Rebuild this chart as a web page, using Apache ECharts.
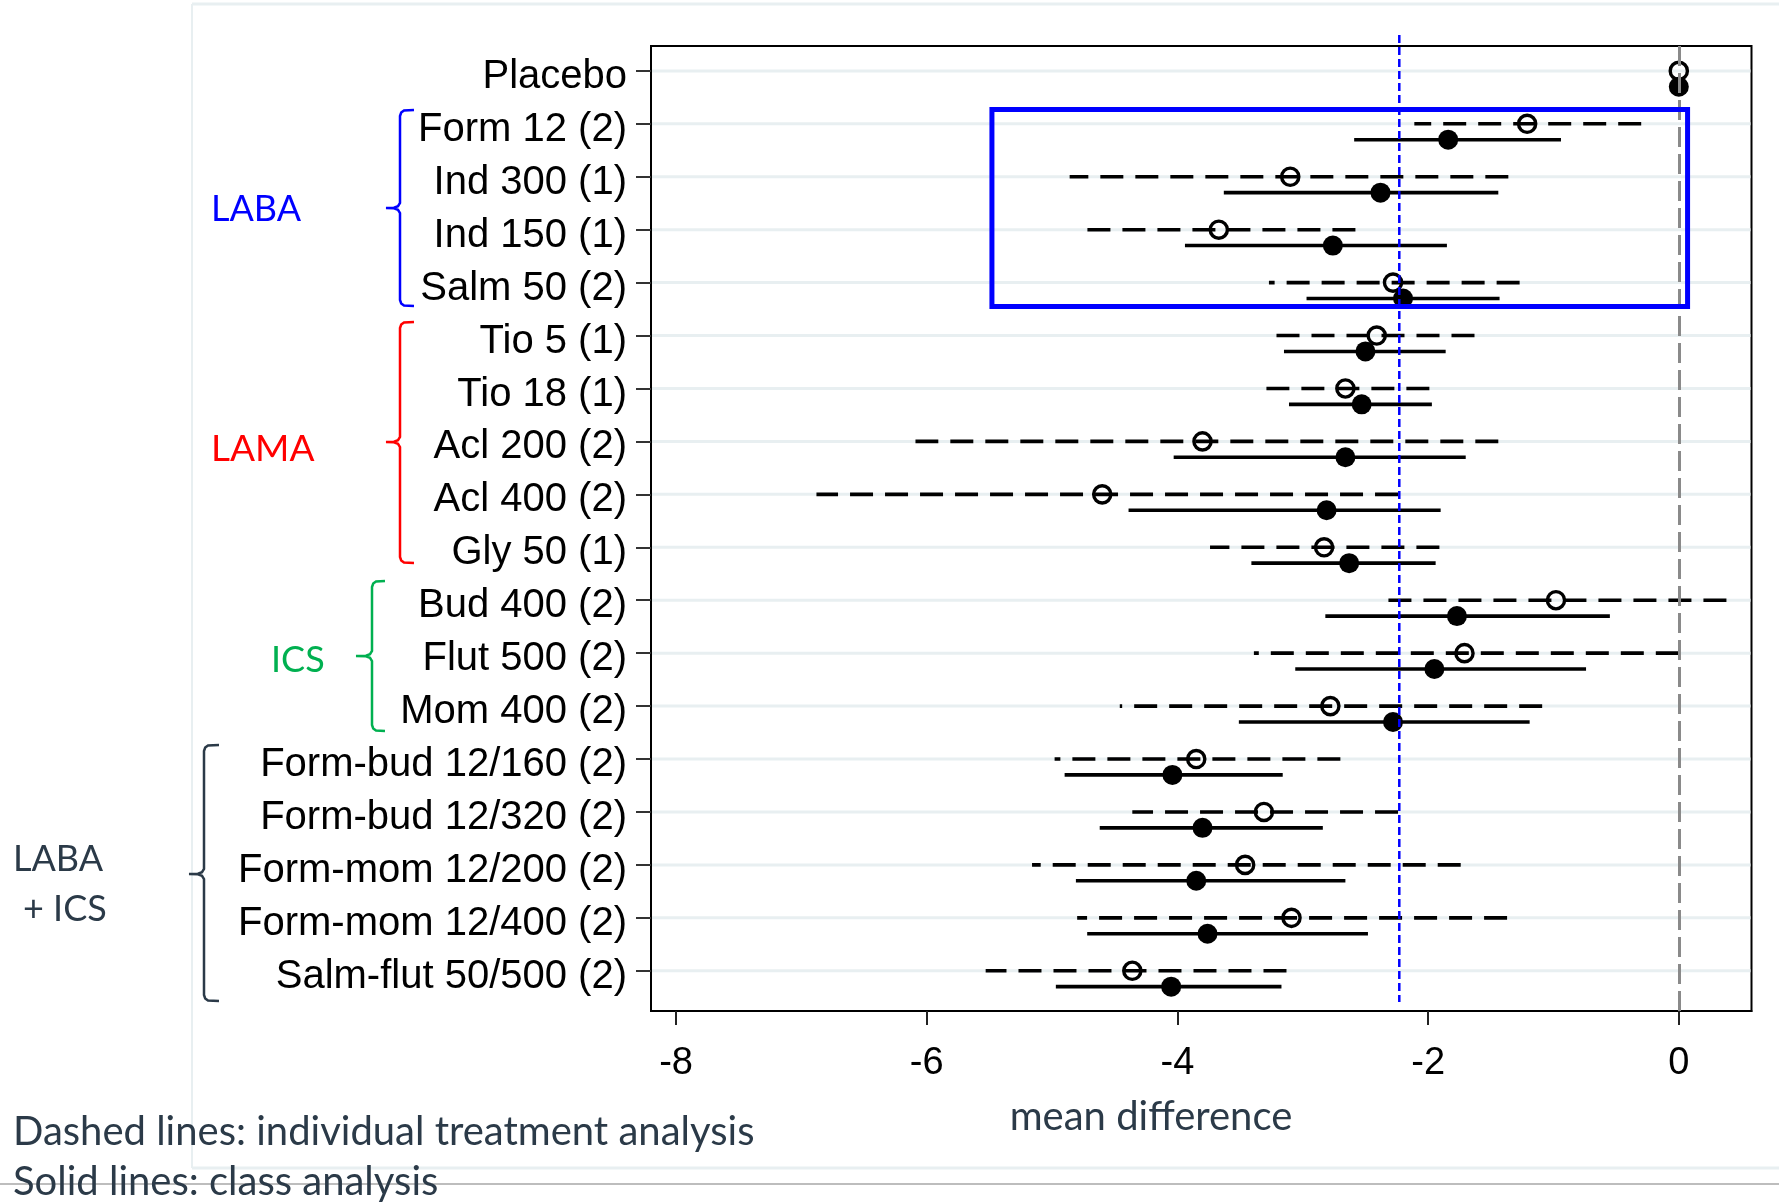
<!DOCTYPE html>
<html>
<head>
<meta charset="utf-8">
<title>mean difference</title>
<script src="https://cdn.jsdelivr.net/npm/echarts@6/dist/echarts.min.js"></script>
<style>
  html, body { margin: 0; padding: 0; background: #fff; }
  #chart { width: 1779px; height: 1202px; }
</style>
</head>
<body>
<div id="chart"></div>
<script>
const treatments = ['Placebo', 'Form 12 (2)', 'Ind 300 (1)', 'Ind 150 (1)', 'Salm 50 (2)',
  'Tio 5 (1)', 'Tio 18 (1)', 'Acl 200 (2)', 'Acl 400 (2)', 'Gly 50 (1)',
  'Bud 400 (2)', 'Flut 500 (2)', 'Mom 400 (2)',
  'Form-bud 12/160 (2)', 'Form-bud 12/320 (2)', 'Form-mom 12/200 (2)', 'Form-mom 12/400 (2)', 'Salm-flut 50/500 (2)']
const rows = treatments.map((t, i) => i)

// individual treatment analysis (dashed)
const indEst = [0, -1.21, -3.10, -3.67, -2.28, -2.41, -2.66, -3.80, -4.60, -2.83, -0.98, -1.71, -2.78, -3.85, -3.31, -3.46, -3.09, -4.36]
const indLo = [0, -2.11, -4.86, -4.72, -3.27, -3.21, -3.29, -6.09, -6.88, -3.74, -2.32, -3.39, -4.46, -4.98, -4.36, -5.16, -4.80, -5.53]
const indHi = [0, -0.30, -1.36, -2.58, -1.27, -1.63, -1.99, -1.44, -2.24, -1.91, 0.38, 0.00, -1.09, -2.70, -2.24, -1.74, -1.37, -3.13]

// class analysis (solid)
const clsEst = [0, -1.84, -2.38, -2.76, -2.20, -2.50, -2.53, -2.66, -2.81, -2.63, -1.77, -1.95, -2.28, -4.04, -3.80, -3.85, -3.76, -4.05]
const clsLo = [0, -2.59, -3.63, -3.94, -2.97, -3.15, -3.11, -4.03, -4.39, -3.41, -2.82, -3.06, -3.51, -4.90, -4.62, -4.81, -4.72, -4.97]
const clsHi = [0, -0.94, -1.44, -1.85, -1.43, -1.86, -1.97, -1.70, -1.90, -1.94, -0.55, -0.74, -1.19, -3.16, -2.84, -2.66, -2.48, -3.17]

const xTicks = [-8, -6, -4, -2, 0]
const labaRef = -2.23
const labaBox = [-5.48, 0.73, 0.07, 4.45]

const classShift = 0.3
const indData = rows.map(i => [i, indLo[i], indEst[i], indHi[i]])
const clsData = rows.map(i => [i + classShift, clsLo[i], clsEst[i], clsHi[i]])

function ciRenderer(dashed) {
  return function (params, api) {
    const y = api.value(0)
    const lo = api.coord([api.value(1), y])
    const est = api.coord([api.value(2), y])
    const hi = api.coord([api.value(3), y])
    const children = []
    if (hi[0] - lo[0] > 0.5) {
      children.push({
        type: 'line',
        shape: { x1: hi[0], y1: hi[1], x2: lo[0], y2: lo[1] },
        style: { stroke: '#000', lineWidth: 3.6, lineDash: dashed ? [23, 12] : null }
      })
    }
    children.push({
      type: 'circle',
      shape: { cx: est[0], cy: est[1], r: dashed ? 8.6 : 10 },
      style: dashed ? { fill: 'none', stroke: '#000', lineWidth: 3.4 } : { fill: '#000' }
    })
    return { type: 'group', children: children }
  }
}

const calibriLike = 'Lato, "Open Sans", sans-serif'
const slate = '#2b3a48'

function txt(text, x, y, size, color, align) {
  return {
    type: 'text', x: x, y: y, z: 20,
    style: { text: text, fill: color, font: size + 'px ' + calibriLike, align: align || 'left', verticalAlign: 'middle' }
  }
}

// curly bracket for the class groups
function bracketEl(x, top, mid, bottom, hook, nub, color) {
  const pts = [
    [x + hook, top], [x + 4, top + 0.5], [x + 1.2, top + 2.5], [x, top + 6],
    [x, mid - 5], [x - 2, mid - 1.8], [x - 6, mid - 0.3], [x - nub, mid],
    [x - 6, mid + 0.3], [x - 2, mid + 1.8], [x, mid + 5],
    [x, bottom - 6], [x + 1.2, bottom - 2.5], [x + 4, bottom - 0.5], [x + hook, bottom]
  ]
  return {
    type: 'polyline', z: 20,
    shape: { points: pts },
    style: { fill: 'none', stroke: color, lineWidth: 2.5 }
  }
}

function seg(x1, y1, x2, y2, color, w) {
  return { type: 'line', z: 0, shape: { x1: x1, y1: y1, x2: x2, y2: y2 }, style: { stroke: color, lineWidth: w } }
}

const chart = echarts.init(document.getElementById('chart'))

const option = {
  backgroundColor: '#fff',
  animation: false,
  grid: {
    left: 651, top: 46, right: 27.5, bottom: 191,
    show: true, borderColor: '#000', borderWidth: 2, backgroundColor: 'transparent'
  },
  xAxis: {
    type: 'value',
    min: -8.2,
    max: 0.58,
    axisLine: { show: true, onZero: false, lineStyle: { color: '#000', width: 2 } },
    axisTick: { show: true, customValues: xTicks, length: 14, lineStyle: { color: '#222', width: 2 } },
    axisLabel: {
      customValues: xTicks, margin: 34, color: '#000',
      fontFamily: '"Liberation Sans", Arial, sans-serif', fontSize: 38,
      formatter: v => String(v)
    },
    splitLine: { show: false }
  },
  yAxis: {
    type: 'value',
    inverse: true,
    min: -0.47,
    max: 17.76,
    axisLine: { show: true, onZero: false, lineStyle: { color: '#000', width: 2 } },
    axisTick: { show: true, customValues: rows, length: 15, lineStyle: { color: '#333', width: 2 } },
    axisLabel: {
      customValues: rows, margin: 24,
      formatter: v => '{t|' + treatments[Math.round(v)] + '}',
      rich: {
        t: {
          color: '#000', padding: [12, 0, 0, 0],
          fontFamily: '"Liberation Sans", Arial, sans-serif', fontSize: 40
        }
      }
    },
    splitLine: { show: false }
  },
  series: [
    {
      // light row gridlines + the zero line
      type: 'custom',
      z: 1,
      silent: true,
      data: rows.map(i => [0, i]),
      encode: { x: 0, y: 1 },
      renderItem: function (params, api) {
        const cs = params.coordSys
        const p = api.coord([0, api.value(1)])
        return {
          type: 'line',
          shape: { x1: cs.x + 1, y1: p[1], x2: cs.x + cs.width - 1, y2: p[1] },
          style: { stroke: '#e8eff1', lineWidth: 3 }
        }
      },
      markLine: {
        silent: true,
        symbol: ['none', 'none'],
        label: { show: false },
        lineStyle: { color: '#8a8a8a', width: 3, type: [20, 7] },
        data: [{ xAxis: 0 }]
      }
    },
    {
      name: 'individual treatment analysis',
      type: 'custom',
      z: 3,
      data: indData,
      encode: { x: [1, 2, 3], y: 0 },
      renderItem: ciRenderer(true)
    },
    {
      name: 'class analysis',
      type: 'custom',
      z: 3,
      data: clsData,
      encode: { x: [1, 2, 3], y: 0 },
      renderItem: ciRenderer(false)
    },
    {
      type: 'custom',
      z: 5,
      clip: false,
      silent: true,
      data: [[labaRef]],
      encode: { x: 0 },
      renderItem: function (params, api) {
        const a = api.coord([api.value(0), -0.68])
        const b = api.coord([api.value(0), 17.59])
        return {
          type: 'line',
          shape: { x1: a[0], y1: a[1], x2: b[0], y2: b[1] },
          style: { stroke: '#0000ff', lineWidth: 2.5, lineDash: [8, 4] }
        }
      }
    },
    {
      type: 'custom',
      z: 6,
      clip: false,
      silent: true,
      data: [labaBox],
      encode: { x: [0, 2], y: [1, 3] },
      renderItem: function (params, api) {
        const p0 = api.coord([api.value(0), api.value(1)])
        const p1 = api.coord([api.value(2), api.value(3)])
        return {
          type: 'rect',
          shape: { x: p0[0], y: p0[1], width: p1[0] - p0[0], height: p1[1] - p0[1] },
          style: { fill: 'none', stroke: '#0000ff', lineWidth: 5 }
        }
      }
    }
  ],
  graphic: [
    // slide frame
    seg(192, 4, 1779, 4, '#e8eff1', 3),
    seg(192, 4, 192, 1168, '#e8eff1', 2),
    seg(192, 1168, 1779, 1168, '#e8eff1', 3),
    seg(0, 1184, 1779, 1184, '#bdbdbd', 2),
    // clipped header remnants
    { type: 'text', x: 1089, y: 5, z: 20, style: { text: 'LABA vs PBO', fill: '#0000ff', font: '32px ' + calibriLike, verticalAlign: 'bottom' } },
    { type: 'text', x: 1236, y: 5, z: 20, style: { text: '-2.2', fill: '#0000ff', font: '32px ' + calibriLike, verticalAlign: 'bottom' } },
    { type: 'text', x: 1657, y: 5, z: 20, style: { text: 'MD CrI', fill: slate, font: 'bold 32px ' + calibriLike, verticalAlign: 'bottom' } },
    // class brackets
    bracketEl(400, 110, 208, 306, 14, 14, '#0000ff'),
    bracketEl(400, 322, 442, 563, 14, 14, '#ff0000'),
    bracketEl(372, 581, 656, 731, 13, 16, '#00b050'),
    bracketEl(204, 745, 874, 1001, 15, 15, slate),
    txt('LABA', 211, 209, 36, '#0000ff'),
    txt('LAMA', 211, 449, 37, '#ff0000'),
    txt('ICS', 271, 660, 36, '#00b050'),
    txt('LABA', 13, 859, 36, slate),
    txt('+ ICS', 23, 909, 36, slate),
    // axis title and notes
    txt('mean difference', 1151, 1117, 40, slate, 'center'),
    txt('Dashed lines: individual treatment analysis', 13, 1132, 40, slate),
    txt('Solid lines: class analysis', 13, 1182, 40, slate)
  ]
}

chart.setOption(option)
</script>
</body>
</html>
